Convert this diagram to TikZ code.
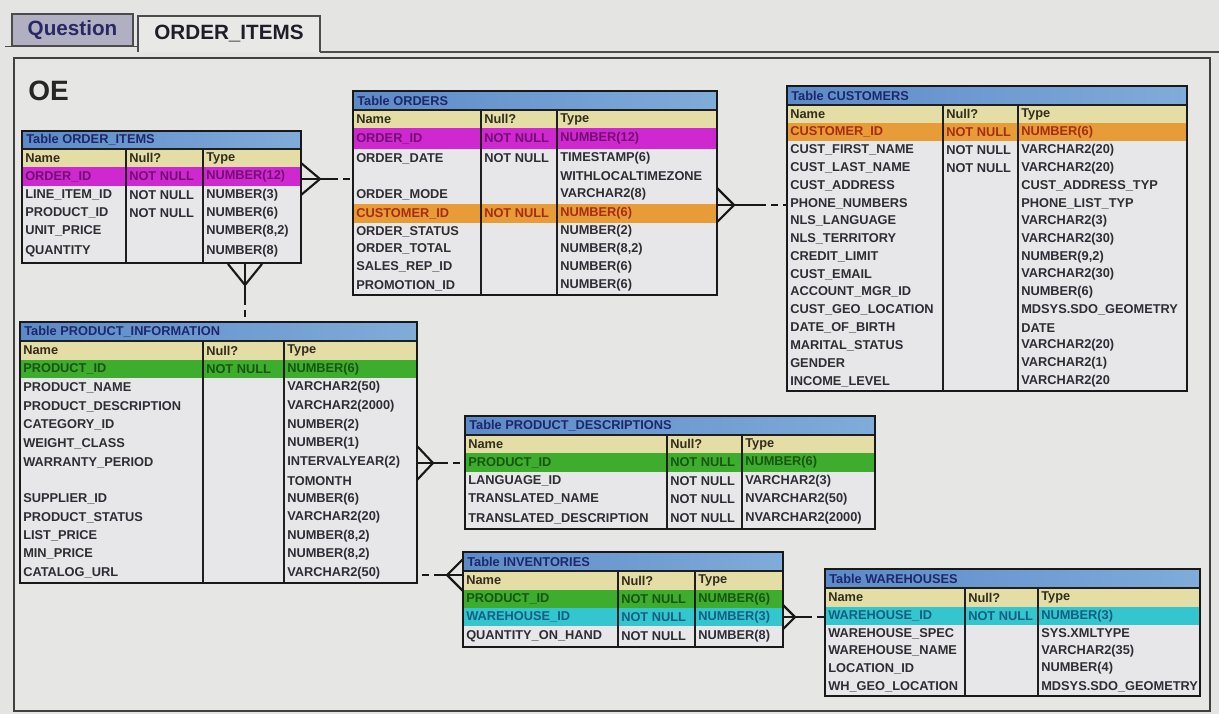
\documentclass[tikz,border=0pt]{standalone}
\usepackage{fontspec}
\setmainfont{Liberation Sans}
\usetikzlibrary{calc}
\definecolor{bg}{RGB}{228,228,226}
\definecolor{panelbg}{RGB}{230,230,228}
\definecolor{qtab}{RGB}{176,176,194}
\definecolor{qtxt}{RGB}{40,40,100}
\definecolor{otab}{RGB}{232,232,230}
\definecolor{otxt}{RGB}{30,30,40}
\definecolor{titleL}{RGB}{92,138,200}
\definecolor{titleR}{RGB}{128,172,218}
\definecolor{titletxt}{RGB}{30,40,105}
\definecolor{headbg}{RGB}{228,222,166}
\definecolor{headtxt}{RGB}{50,45,30}
\definecolor{cellbg}{RGB}{231,231,234}
\definecolor{celltxt}{RGB}{45,45,52}
\definecolor{magbg}{RGB}{208,40,208}
\definecolor{magtxt}{RGB}{115,15,115}
\definecolor{orgbg}{RGB}{232,156,56}
\definecolor{orgtxt}{RGB}{165,45,20}
\definecolor{grnbg}{RGB}{62,172,44}
\definecolor{grntxt}{RGB}{25,85,18}
\definecolor{cynbg}{RGB}{52,198,206}
\definecolor{cyntxt}{RGB}{20,95,130}
\definecolor{linec}{RGB}{25,25,25}
\newcommand\cellfont{\fontsize{9.6}{11.5}\selectfont\bfseries}
\newcommand\tabfont{\fontsize{15.5}{18}\selectfont\bfseries}
\newcommand\oefont{\fontsize{21}{24}\selectfont\bfseries}
\newcommand\erSet[4]{\def\xa{#1}\def\xb{#2}\def\xc{#3}\def\xd{#4}}
\newcommand\erTitle[4]{%
  \shade[left color=titleL,right color=titleR] (\xa,#2) rectangle (\xd,#3);
  \node[cell,text=titletxt] (#1) at ({\xa+4},{(#2+#3)/2}) {#4};}
\newcommand\erHead[3]{%
  \fill[headbg] (\xa,#2) rectangle (\xd,#3);
  \draw[rowline] (\xa,#3) -- (\xd,#3);
  \node[cell,text=headtxt] (#1-n) at ({\xa+3},{(#2+#3)/2}) {Name};
  \node[cell,text=headtxt] (#1-u) at ({\xb+3},{(#2+#3)/2}) {Null?};
  \node[cell,text=headtxt] (#1-t) at ({\xc+3},{(#2+#3)/2}) {Type};}
\newcommand\erRow[8]{%
  \fill[#4] (\xa,#2) rectangle (\xd,#3);
  \draw[rowline] (\xa,#3) -- (\xd,#3);
  \node[cell,text=#5] (#1-n) at ({\xa+3},{(#2+#3)/2}) {#6};
  \node[cell,text=#5] (#1-u) at ({\xb+3},{(#2+#3)/2}) {#7};
  \node[cell,text=#5] (#1-t) at ({\xc+3},{(#2+#3)/2}) {#8};}
\newcommand\erW[6]{\erRow{#1}{#2}{#3}{cellbg}{celltxt}{#4}{#5}{#6}}
\newcommand\erTwo[7]{%
  \fill[cellbg] (\xa,#2) rectangle (\xd,#3);
  \draw[rowline] (\xa,#3) -- (\xd,#3);
  \node[cell,text=celltxt] (#1-n) at ({\xa+3},{#2+9.5}) {#4};
  \node[cell,text=celltxt] (#1-u) at ({\xb+3},{#2+9.5}) {#5};
  \node[cell,text=celltxt] (#1-t) at ({\xc+3},{#2+9.5}) {#6};
  \node[cell,text=celltxt] (#1-s) at ({\xc+3},{#3-9}) {#7};}
\newcommand\erFrame[3]{%
  \draw[colline] (\xb,#2) -- (\xb,#3);
  \draw[colline] (\xc,#2) -- (\xc,#3);
  \draw[colline] (\xa,#2) -- (\xd,#2);
  \draw[outer] (\xa,#1) rectangle (\xd,#3);}
\begin{document}
\begin{tikzpicture}[x=0.75pt,y=-0.75pt,
  cell/.style={anchor=west,inner sep=0pt,font=\cellfont},
  rowline/.style={draw=black!55,line width=0.7pt},
  colline/.style={draw=black!88,line width=1.8pt},
  outer/.style={draw=black!90,line width=2.2pt},
  tabline/.style={draw=black!70,line width=1.2pt},
  rel/.style={draw=linec,line width=1.6pt},
  reldash/.style={rel,dash pattern=on 5.25pt off 3.75pt}]
\useasboundingbox (0,0) rectangle (1219,714);
\fill[bg] (0,0) rectangle (1219,714);
% tabs and panel
\draw[tabline,fill=qtab] (12,14) rectangle (133,46);
\node[font=\tabfont,text=qtxt,inner sep=0pt] (qtab) at (72.5,30.5) {Question};
\draw[tabline,fill=otab] (138,52) -- (138,16) -- (320,16) -- (320,52);
\node[font=\tabfont,text=otxt,inner sep=0pt] (otab) at (229,34) {ORDER\_ITEMS};
\draw[tabline] (5,46.5) -- (138,46.5);
\draw[tabline] (320,52) -- (1219,52);
\draw[draw=black!75,line width=1.4pt,fill=panelbg] (14,58) rectangle (1210,711);
\node[font=\oefont,text=black!85,anchor=base west,inner sep=0pt] (oe) at (28,100) {OE};
% ORDER_ITEMS
\erSet{22}{126}{203}{301}
\erTitle{oi}{131}{149}{Table ORDER\_ITEMS}
\erHead{oih}{149}{167}
\erRow{oi1}{167}{186}{magbg}{magtxt}{ORDER\_ID}{NOT NULL}{NUMBER(12)}
\erW{oi2}{186}{204}{LINE\_ITEM\_ID}{NOT NULL}{NUMBER(3)}
\erW{oi3}{204}{222}{PRODUCT\_ID}{NOT NULL}{NUMBER(6)}
\erW{oi4}{222}{240}{UNIT\_PRICE}{}{NUMBER(8,2)}
\erW{oi5}{240}{263}{QUANTITY}{}{NUMBER(8)}
\erFrame{131}{149}{263}
% ORDERS
\erSet{353}{481}{557}{717}
\erTitle{ord}{91}{110}{Table ORDERS}
\erHead{ordh}{110}{128}
\erRow{ord1}{128}{149}{magbg}{magtxt}{ORDER\_ID}{NOT NULL}{NUMBER(12)}
\erTwo{ord2}{149}{185}{ORDER\_DATE}{NOT NULL}{TIMESTAMP(6)}{WITHLOCALTIMEZONE}
\erW{ord3}{185}{204}{ORDER\_MODE}{}{VARCHAR2(8)}
\erRow{ord4}{204}{223}{orgbg}{orgtxt}{CUSTOMER\_ID}{NOT NULL}{NUMBER(6)}
\erW{ord5}{223}{240}{ORDER\_STATUS}{}{NUMBER(2)}
\erW{ord6}{240}{258}{ORDER\_TOTAL}{}{NUMBER(8,2)}
\erW{ord7}{258}{276}{SALES\_REP\_ID}{}{NUMBER(6)}
\erW{ord8}{276}{295}{PROMOTION\_ID}{}{NUMBER(6)}
\erFrame{91}{110}{295}
% CUSTOMERS
\erSet{787}{943}{1018}{1187}
\erTitle{cus}{86}{105}{Table CUSTOMERS}
\erHead{cush}{105}{123}
\erRow{cus1}{123}{141}{orgbg}{orgtxt}{CUSTOMER\_ID}{NOT NULL}{NUMBER(6)}
\erW{cus2}{141}{159}{CUST\_FIRST\_NAME}{NOT NULL}{VARCHAR2(20)}
\erW{cus3}{159}{177}{CUST\_LAST\_NAME}{NOT NULL}{VARCHAR2(20)}
\erW{cus4}{177}{195}{CUST\_ADDRESS}{}{CUST\_ADDRESS\_TYP}
\erW{cus5}{195}{212}{PHONE\_NUMBERS}{}{PHONE\_LIST\_TYP}
\erW{cus6}{212}{230}{NLS\_LANGUAGE}{}{VARCHAR2(3)}
\erW{cus7}{230}{248}{NLS\_TERRITORY}{}{VARCHAR2(30)}
\erW{cus8}{248}{266}{CREDIT\_LIMIT}{}{NUMBER(9,2)}
\erW{cus9}{266}{283}{CUST\_EMAIL}{}{VARCHAR2(30)}
\erW{cus10}{283}{301}{ACCOUNT\_MGR\_ID}{}{NUMBER(6)}
\erW{cus11}{301}{319}{CUST\_GEO\_LOCATION}{}{MDSYS.SDO\_GEOMETRY}
\erW{cus12}{319}{337}{DATE\_OF\_BIRTH}{}{DATE}
\erW{cus13}{337}{354}{MARITAL\_STATUS}{}{VARCHAR2(20)}
\erW{cus14}{354}{372}{GENDER}{}{VARCHAR2(1)}
\erW{cus15}{372}{391}{INCOME\_LEVEL}{}{VARCHAR2(20}
\erFrame{86}{105}{391}
% PRODUCT_INFORMATION
\erSet{20}{203}{284}{417}
\erTitle{pi}{322}{341}{Table PRODUCT\_INFORMATION}
\erHead{pih}{341}{360}
\erRow{pi1}{360}{378}{grnbg}{grntxt}{PRODUCT\_ID}{NOT NULL}{NUMBER(6)}
\erW{pi2}{378}{397}{PRODUCT\_NAME}{}{VARCHAR2(50)}
\erW{pi3}{397}{416}{PRODUCT\_DESCRIPTION}{}{VARCHAR2(2000)}
\erW{pi4}{416}{434}{CATEGORY\_ID}{}{NUMBER(2)}
\erW{pi5}{434}{453}{WEIGHT\_CLASS}{}{NUMBER(1)}
\erTwo{pi6}{453}{490}{WARRANTY\_PERIOD}{}{INTERVALYEAR(2)}{TOMONTH}
\erW{pi7}{490}{508}{SUPPLIER\_ID}{}{NUMBER(6)}
\erW{pi8}{508}{527}{PRODUCT\_STATUS}{}{VARCHAR2(20)}
\erW{pi9}{527}{545}{LIST\_PRICE}{}{NUMBER(8,2)}
\erW{pi10}{545}{563}{MIN\_PRICE}{}{NUMBER(8,2)}
\erW{pi11}{563}{583}{CATALOG\_URL}{}{VARCHAR2(50)}
\erFrame{322}{341}{583}
% PRODUCT_DESCRIPTIONS
\erSet{465}{667}{742}{875}
\erTitle{pd}{416}{435}{Table PRODUCT\_DESCRIPTIONS}
\erHead{pdh}{435}{453}
\erRow{pd1}{453}{472}{grnbg}{grntxt}{PRODUCT\_ID}{NOT NULL}{NUMBER(6)}
\erW{pd2}{472}{490}{LANGUAGE\_ID}{NOT NULL}{VARCHAR2(3)}
\erW{pd3}{490}{508}{TRANSLATED\_NAME}{NOT NULL}{NVARCHAR2(50)}
\erW{pd4}{508}{529}{TRANSLATED\_DESCRIPTION}{NOT NULL}{NVARCHAR2(2000)}
\erFrame{416}{435}{529}
% INVENTORIES
\erSet{463}{618}{695}{783}
\erTitle{inv}{552}{571}{Table INVENTORIES}
\erHead{invh}{571}{590}
\erRow{inv1}{590}{608}{grnbg}{grntxt}{PRODUCT\_ID}{NOT NULL}{NUMBER(6)}
\erRow{inv2}{608}{626}{cynbg}{cyntxt}{WAREHOUSE\_ID}{NOT NULL}{NUMBER(3)}
\erW{inv3}{626}{647}{QUANTITY\_ON\_HAND}{NOT NULL}{NUMBER(8)}
\erFrame{552}{571}{647}
% WAREHOUSES
\erSet{825}{965}{1038}{1200}
\erTitle{wh}{569}{588}{Table WAREHOUSES}
\erHead{whh}{588}{607}
\erRow{wh1}{607}{625}{cynbg}{cyntxt}{WAREHOUSE\_ID}{NOT NULL}{NUMBER(3)}
\erW{wh2}{625}{642}{WAREHOUSE\_SPEC}{}{SYS.XMLTYPE}
\erW{wh3}{642}{660}{WAREHOUSE\_NAME}{}{VARCHAR2(35)}
\erW{wh4}{660}{677}{LOCATION\_ID}{}{NUMBER(4)}
\erW{wh5}{677}{696}{WH\_GEO\_LOCATION}{}{MDSYS.SDO\_GEOMETRY}
\erFrame{569}{588}{696}
% connector end points
\coordinate (oi-r) at (301,179);
\coordinate (ord-l) at (353,179);
\coordinate (ord-r) at (717,205);
\coordinate (cus-l) at (787,205);
\coordinate (oi-b) at (245,264);
\coordinate (pi-t) at (245,322);
\coordinate (pi-r1) at (417,463);
\coordinate (pd-l) at (465,463);
\coordinate (pi-r2) at (417,575);
\coordinate (inv-l) at (463,575);
\coordinate (inv-r) at (783,617);
\coordinate (wh-l) at (825,617);
% ORDER_ITEMS -> ORDERS
\draw[rel] ($(oi-r)+(0,-16)$) -- ($(oi-r)+(19,0)$) -- ($(oi-r)+(0,16)$);
\draw[rel] (oi-r) -- ($(oi-r)+(30,0)$) coordinate (c1);
\draw[reldash] (c1) -- (ord-l);
% ORDERS -> CUSTOMERS
\draw[rel] ($(ord-r)+(0,-17)$) -- ($(ord-r)+(17,0)$) -- ($(ord-r)+(0,17)$);
\draw[rel] (ord-r) -- ($(ord-r)+(42,0)$) coordinate (c2);
\draw[reldash] (c2) -- (cus-l);
% ORDER_ITEMS -> PRODUCT_INFORMATION
\draw[rel] ($(oi-b)+(-17,0)$) -- ($(oi-b)+(0,21)$) -- ($(oi-b)+(17,0)$);
\draw[rel] (oi-b) -- ($(oi-b)+(0,34)$) coordinate (c3);
\draw[reldash] (c3) -- (pi-t);
% PRODUCT_INFORMATION -> PRODUCT_DESCRIPTIONS
\draw[rel] ($(pi-r1)+(0,-17)$) -- ($(pi-r1)+(16,0)$) -- ($(pi-r1)+(0,17)$);
\draw[rel] (pi-r1) -- ($(pi-r1)+(24,0)$) coordinate (c4);
\draw[reldash] (c4) -- (pd-l);
% PRODUCT_INFORMATION -> INVENTORIES
\draw[rel] ($(inv-l)+(0,-16)$) -- ($(inv-l)+(-16,0)$) -- ($(inv-l)+(0,16)$);
\draw[rel] (inv-l) -- ($(inv-l)+(-22,0)$) coordinate (c5);
\draw[reldash] (c5) -- (pi-r2);
% INVENTORIES -> WAREHOUSES
\draw[rel] ($(inv-r)+(0,-12)$) -- ($(inv-r)+(12,0)$) -- ($(inv-r)+(0,12)$);
\draw[rel] (inv-r) -- ($(inv-r)+(22,0)$) coordinate (c6);
\draw[reldash] (c6) -- (wh-l);
\end{tikzpicture}
\end{document}
